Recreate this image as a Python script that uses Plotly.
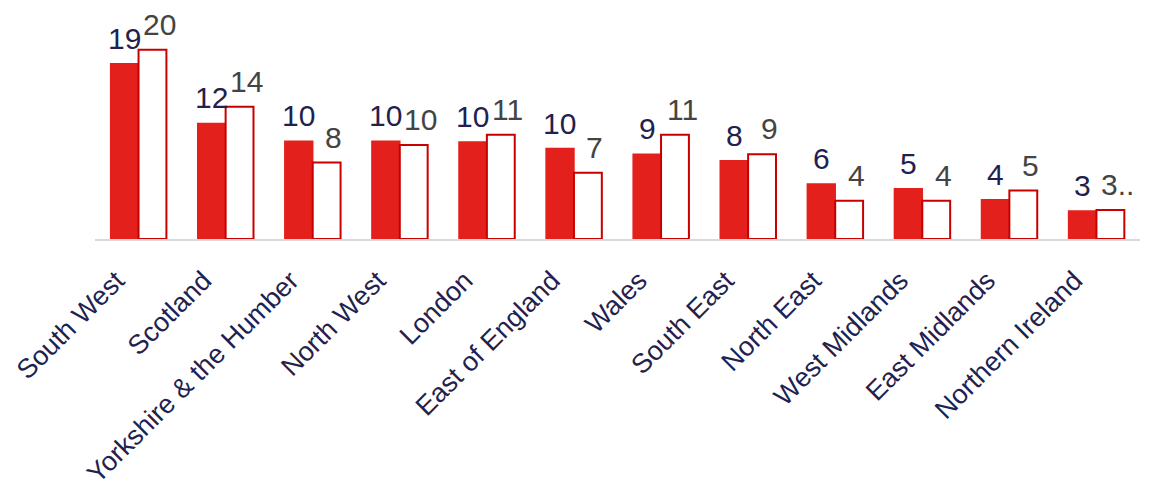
import plotly.graph_objects as go

regions = ["South West", "Scotland", "Yorkshire & the Humber", "North West", "London",
           "East of England", "Wales", "South East", "North East", "West Midlands",
           "East Midlands", "Northern Ireland"]
series_a = [18.8, 12.4, 10.5, 10.5, 10.4, 9.7, 9.1, 8.4, 5.9, 5.4, 4.2, 3.0]
series_b = [20.3, 14.2, 8.2, 10.1, 11.2, 7.1, 11.2, 9.1, 4.1, 4.1, 5.2, 3.1]
labels_a = ["19", "12", "10", "10", "10", "10", "9", "8", "6", "5", "4", "3"]
labels_b = ["20", "14", "8", "10", "11", "7", "11", "9", "4", "4", "5", "3.."]

fig = go.Figure()
fig.add_trace(go.Bar(
    x=regions, y=series_a,
    marker=dict(color="#e3201b", line=dict(color="#e3201b", width=1.5)),
))
fig.add_trace(go.Bar(
    x=regions, y=series_b,
    marker=dict(color="#ffffff", line=dict(color="#c80000", width=2)),
))

for r, v, t in zip(regions, series_a, labels_a):
    fig.add_annotation(x=r, y=v, text=t, showarrow=False, xanchor="center",
                       yanchor="bottom", xshift=-14, yshift=8, borderpad=0,
                       font=dict(size=30, color="#231f4f"))
for r, v, t in zip(regions, series_b, labels_b):
    fig.add_annotation(x=r, y=v, text=t, showarrow=False, xanchor="center",
                       yanchor="bottom", xshift=21, yshift=8, borderpad=0,
                       font=dict(size=30, color="#444444"))

fig.update_layout(
    width=1150, height=491, barmode="group", bargap=0.36, bargroupgap=0,
    showlegend=False, plot_bgcolor="white", paper_bgcolor="white",
    margin=dict(l=87, r=18, t=12, b=260),
    font=dict(family="Liberation Sans, Arial, sans-serif"),
)
fig.update_xaxes(tickangle=-45, tickfont=dict(size=27, color="#231f4f"),
                 showline=True, linecolor="#d9d9d9", linewidth=2, ticks="",
                 automargin=False, ticklabelshift=-22, ticklabelstandoff=13)
fig.update_yaxes(range=[0, 23.5], visible=False, showgrid=False)
fig.write_html("out.html")
